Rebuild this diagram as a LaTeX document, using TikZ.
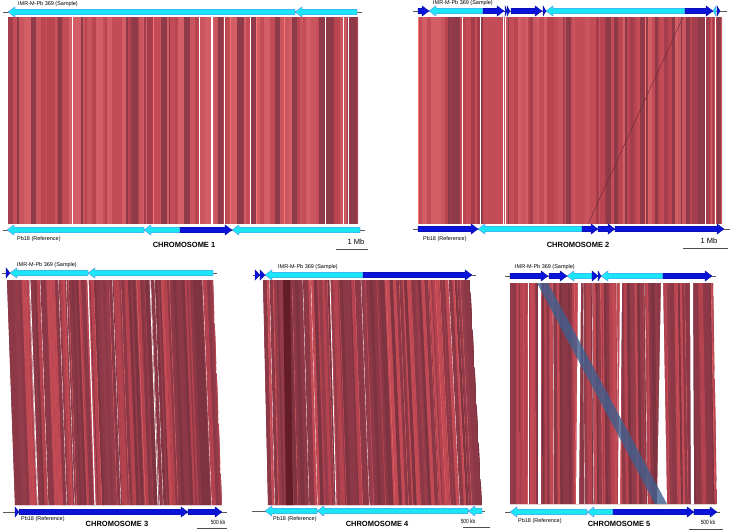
\documentclass[tikz,border=0pt]{standalone}
\usepackage{fontspec}
\setmainfont{Liberation Sans}
\definecolor{gcyan}{HTML}{1CE6F6}
\definecolor{gblue}{HTML}{0A14D8}
\definecolor{pAc0}{HTML}{C44C57}
\definecolor{pAc1}{HTML}{B8454F}
\definecolor{pAc2}{HTML}{8E3A48}
\definecolor{pAc3}{HTML}{C9565F}
\definecolor{pAc4}{HTML}{D45E66}
\definecolor{pAc5}{HTML}{A43E4C}
\definecolor{pBc0}{HTML}{8C3846}
\definecolor{pBc1}{HTML}{7E3341}
\definecolor{pBc2}{HTML}{8C3846}
\definecolor{pBc3}{HTML}{B4434F}
\definecolor{pBc4}{HTML}{943C4A}
\definecolor{pBc5}{HTML}{C24A55}
\definecolor{invblue}{HTML}{3F5F8E}
\definecolor{deepred}{HTML}{641C26}
\tikzset{
  smalllbl/.style={font=\fontsize{5.5}{6}\selectfont, inner sep=0pt, anchor=west},
  chromlbl/.style={font=\bfseries\fontsize{7.5}{8}\selectfont, inner sep=0pt},
  scalelbl/.style={font=\fontsize{7.5}{8}\selectfont, inner sep=0pt},
  kblbl/.style={font=\fontsize{6}{7}\selectfont, inner sep=0pt, xscale=0.8},
  backbone/.style={draw=gray!70!black, line width=0.5},
  scalebar/.style={draw=black!70, line width=0.6},
}
% right-pointing gene arrow: x1 x2 y colour
\newcommand\ra[4]{\filldraw[fill=#4, draw=#4!65!black, line width=0.25]
  (#1,#3-2.8) -- ({max(#1,#2-7)},#3-2.8) -- ({max(#1,#2-7)},#3-5.2) -- (#2,#3) -- ({max(#1,#2-7)},#3+5.2) -- ({max(#1,#2-7)},#3+2.8) -- (#1,#3+2.8) -- cycle;}
% left-pointing gene arrow: head at x1
\newcommand\la[4]{\filldraw[fill=#4, draw=gblue!60, line width=0.25]
  (#2,#3-2.8) -- ({min(#2,#1+7)},#3-2.8) -- ({min(#2,#1+7)},#3-5.2) -- (#1,#3) -- ({min(#2,#1+7)},#3+5.2) -- ({min(#2,#1+7)},#3+2.8) -- (#2,#3+2.8) -- cycle;}
% bands: xt1 xt2 xb1 xb2 ytop ybot seed n palette
\newcommand\bands[9]{%
 \begin{scope}
 \clip (#1,#5) -- (#2,#5) -- (#4,#6) -- (#3,#6) -- cycle;
 \fill[#9c0] (#1,#5) -- (#2,#5) -- (#4,#6) -- (#3,#6) -- cycle;
 \pgfmathsetseed{#7}%
 \gdef\ua{0}%
 \foreach \ii in {1,...,#8}{%
   \pgfmathsetmacro\ub{\ua+0.002+0.017*rnd}%
   \pgfmathtruncatemacro\bk{min(5,int(6*rnd))}%
   \fill[#9c\bk] ({#1+\ua*(#2-#1)},#5) -- ({#1+\ub*(#2-#1)},#5) -- ({#3+\ub*(#4-#3)},#6) -- ({#3+\ua*(#4-#3)},#6) -- cycle;
   \pgfmathsetmacro\bw{rnd}%
   \ifdim\bw pt<0.08pt \draw[white,line width=0.7] ({#1+\ub*(#2-#1)},#5) -- ({#3+\ub*(#4-#3)},#6);\fi
   \ifdim\bw pt>0.9pt \draw[red!55!white,line width=0.6] ({#1+\ub*(#2-#1)},#5) -- ({#3+\ub*(#4-#3)},#6);\fi
   \global\let\ua\ub
 }%
 \end{scope}}
\begin{document}
\begin{tikzpicture}[x=1pt,y=-1pt]
\useasboundingbox[fill=white] (0,0) rectangle (735,531);

% ================= CHROMOSOME 1 =================
\bands{8}{358}{8}{358}{17}{224}{11}{120}{pA}
\draw[white,line width=1.2] (212,17) -- (212,224);
\draw[white,line width=0.8] (72,17) -- (72,224);
\draw[white,line width=0.8] (250,17) -- (250,224);
\draw[backbone] (3,12) -- (362,12);
\la{8}{295}{12}{gcyan}
\la{295}{357}{12}{gcyan}
\draw[backbone] (3,230) -- (365,230);
\la{7}{144}{230}{gcyan}
\la{144}{180}{230}{gcyan}
\ra{180}{232}{230}{gblue}
\la{232}{360}{230}{gcyan}
\node[smalllbl] (s1) at (18,4) {IMR-M-Pb 369 (Sample)};
\node[smalllbl] (r1) at (17,239) {Pb18 (Reference)};
\node[chromlbl] (c1) at (184,245) {CHROMOSOME 1};
\node[scalelbl] (m1) at (356,242) {1 Mb};
\draw[scalebar] (336,249) -- (368,249);

% ================= CHROMOSOME 2 =================
\bands{418}{722}{418}{722}{17}{224}{23}{120}{pA}
\fill[pAc0] (483,17) rectangle (503,224);
\draw[white,line width=1] (480,17) -- (480,224);
\draw[white,line width=1] (505,17) -- (505,224);
\draw[white,line width=1] (715,17) -- (715,224);
\draw[pAc2!80!black,line width=0.5] (683,17) -- (588,224);
\draw[backbone] (413,11) -- (727,11);
\ra{418}{429}{11}{gblue}
\la{429}{483}{11}{gcyan}
\ra{483}{504}{11}{gblue}
\ra{505}{507}{11}{gblue}
\ra{507}{510}{11}{gblue}
\ra{511}{542}{11}{gblue}
\ra{543}{546}{11}{gblue}
\la{546}{685}{11}{gcyan}
\ra{685}{713}{11}{gblue}
\la{713}{716}{11}{gcyan}
\ra{717}{720}{11}{gblue}
\draw[backbone] (413,229) -- (730,229);
\ra{418}{478}{229}{gblue}
\la{478}{582}{229}{gcyan}
\ra{582}{598}{229}{gblue}
\ra{598}{615}{229}{gblue}
\ra{615}{724}{229}{gblue}
\node[smalllbl] (s2) at (433,3) {IMR-M-Pb 369 (Sample)};
\node[smalllbl] (r2) at (423,239) {Pb18 (Reference)};
\node[chromlbl] (c2) at (578,245) {CHROMOSOME 2};
\node[scalelbl] (m2) at (709,241) {1 Mb};
\draw[scalebar] (683,248) -- (728,248);

% ================= CHROMOSOME 3 =================
\bands{7}{213}{15}{222}{280}{505}{37}{120}{pB}
\draw[white,line width=1.2] (88,280) -- (95,505);
\draw[white,line width=0.8] (30,280) -- (38,505);
\draw[white,line width=0.8] (150,280) -- (158,505);
\draw[backbone] (2,273) -- (217,273);
\ra{6}{10}{273}{gblue}
\la{10}{88}{273}{gcyan}
\la{88}{213}{273}{gcyan}
\draw[backbone] (3,512) -- (227,512);
\ra{15}{19}{512}{gblue}
\ra{19}{188}{512}{gblue}
\ra{188}{222}{512}{gblue}
\node[smalllbl] (s3) at (17,265) {IMR-M-Pb 369 (Sample)};
\node[smalllbl] (r3) at (21,519) {Pb18 (Reference)};
\node[chromlbl] (c3) at (117,524) {CHROMOSOME 3};
\node[kblbl] (m3) at (218,522) {500 kb};
\draw[scalebar] (197,528) -- (227,528);

% ================= CHROMOSOME 4 =================
\bands{263}{470}{268}{482}{280}{505}{51}{120}{pB}
\fill[deepred] (283,280) -- (290,280) -- (293,505) -- (286,505) -- cycle;
\draw[white,line width=0.8] (262,280) -- (267,505);
\draw[white,line width=0.8] (330,280) -- (336,505);
\draw[backbone] (253,275) -- (476,275);
\ra{255}{260}{275}{gblue}
\ra{260}{265}{275}{gblue}
\la{265}{363}{275}{gcyan}
\ra{363}{472}{275}{gblue}
\draw[backbone] (252,511) -- (485,511);
\la{265}{317}{511}{gcyan}
\la{317}{468}{511}{gcyan}
\la{468}{482}{511}{gcyan}
\node[smalllbl] (s4) at (278,267) {IMR-M-Pb 369 (Sample)};
\node[smalllbl] (r4) at (273,519) {Pb18 (Reference)};
\node[chromlbl] (c4) at (377,524) {CHROMOSOME 4};
\node[kblbl] (m4) at (468,521) {500 kb};
\draw[scalebar] (463,527) -- (490,527);

% ================= CHROMOSOME 5 =================
\bands{510}{713}{510}{717}{283}{504}{73}{120}{pB}
\fill[white] (538,283) -- (541,283) -- (541,504) -- (538,504) -- cycle;
\fill[white] (578,283) -- (581,283) -- (579,504) -- (576,504) -- cycle;
\fill[white] (620,283) -- (622,283) -- (620,504) -- (618,504) -- cycle;
\fill[white] (661,283) -- (663,283) -- (667,504) -- (657,504) -- cycle;
\fill[white] (690,283) -- (693,283) -- (694,504) -- (691,504) -- cycle;
\draw[white,line width=0.8] (528,283) -- (528,504);
\fill[invblue, opacity=0.8] (537,283) -- (548,283) -- (667,504) -- (655,504) -- cycle;
\draw[backbone] (505,276) -- (716,276);
\ra{510}{548}{276}{gblue}
\ra{549}{567}{276}{gblue}
\la{567}{592}{276}{gcyan}
\ra{592}{598}{276}{gblue}
\ra{598}{601}{276}{gblue}
\la{601}{663}{276}{gcyan}
\ra{663}{712}{276}{gblue}
\draw[backbone] (505,512) -- (720,512);
\la{510}{587}{512}{gcyan}
\la{587}{613}{512}{gcyan}
\ra{613}{694}{512}{gblue}
\ra{694}{717}{512}{gblue}
\node[smalllbl] (s5) at (515,267) {IMR-M-Pb 369 (Sample)};
\node[smalllbl] (r5) at (518,521) {Pb18 (Reference)};
\node[chromlbl] (c5) at (619,524) {CHROMOSOME 5};
\node[kblbl] (m5) at (708,522) {500 kb};
\draw[scalebar] (689,529) -- (723,529);
\end{tikzpicture}
\end{document}
